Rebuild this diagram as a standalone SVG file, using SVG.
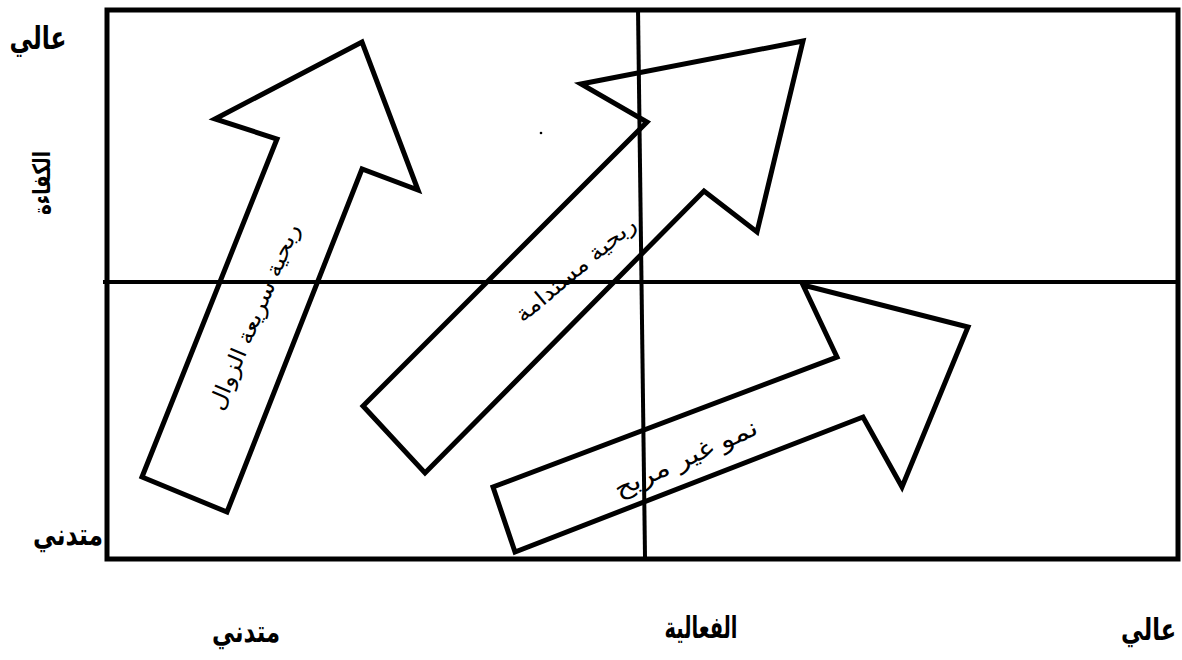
<svg xmlns="http://www.w3.org/2000/svg" width="1182" height="660" viewBox="0 0 1182 660">
<style>
.frame{fill:none;stroke:#000;stroke-width:5}
.axis{fill:none;stroke:#000;stroke-width:4}
.arrow{fill:none;stroke:#000;stroke-width:5;stroke-linejoin:miter}
.lbl{font-family:"Liberation Sans","DejaVu Sans",sans-serif;font-weight:bold;fill:#000;text-anchor:middle}
.atxt{font-family:"Liberation Sans","DejaVu Sans",sans-serif;fill:#000;text-anchor:middle}
</style>
<rect width="1182" height="660" fill="#fff"/>
<g id="grid">
<rect class="frame" x="107" y="10" width="1071" height="549"/>
<line class="axis" x1="103" y1="282" x2="1180" y2="282"/>
<line class="axis" x1="638" y1="8" x2="645" y2="557"/>
</g>
<g id="arrow-quick">
<polygon class="arrow" points="142,477 227,512 362,169 418,190 362,42 215,119 277,139"/>
<text class="atxt" font-size="22" transform="translate(255,317) rotate(-67)" dy="0.3em" textLength="200" lengthAdjust="spacingAndGlyphs">ربحية سريعة الزوال</text>
</g>
<g id="arrow-sustained">
<polygon class="arrow" points="363,406 425,473 704,191 757,232 803,41 581,84 647,122"/>
<text class="atxt" font-size="22" transform="translate(576,270) rotate(-40)" dy="0.3em" textLength="150" lengthAdjust="spacingAndGlyphs">ربحية مستدامة</text>
<circle cx="541" cy="133" r="1.3" fill="#000"/>
</g>
<g id="arrow-growth">
<polygon class="arrow" points="493,487 515,552 863,417 902,487 968,327 803,285 837,357"/>
<text class="atxt" font-size="24" transform="translate(686,459) rotate(-24.5)" dy="0.3em" textLength="155" lengthAdjust="spacingAndGlyphs">نمو غير مربح</text>
</g>
<g id="labels">
<text class="lbl" x="38" y="49" font-size="32" textLength="57" lengthAdjust="spacingAndGlyphs">عالي</text>
<text class="lbl" font-size="24" transform="translate(50,183) rotate(-90)" textLength="64" lengthAdjust="spacingAndGlyphs">الكفاءة</text>
<text class="lbl" x="68" y="545" font-size="30" textLength="70" lengthAdjust="spacingAndGlyphs">متدني</text>
<text class="lbl" x="246" y="642" font-size="30" textLength="68" lengthAdjust="spacingAndGlyphs">متدني</text>
<text class="lbl" x="701" y="638" font-size="30" textLength="73" lengthAdjust="spacingAndGlyphs">الفعالية</text>
<text class="lbl" x="1176" y="640" font-size="30" textLength="55" lengthAdjust="spacingAndGlyphs" style="text-anchor:end">عالي</text>
</g>
</svg>
